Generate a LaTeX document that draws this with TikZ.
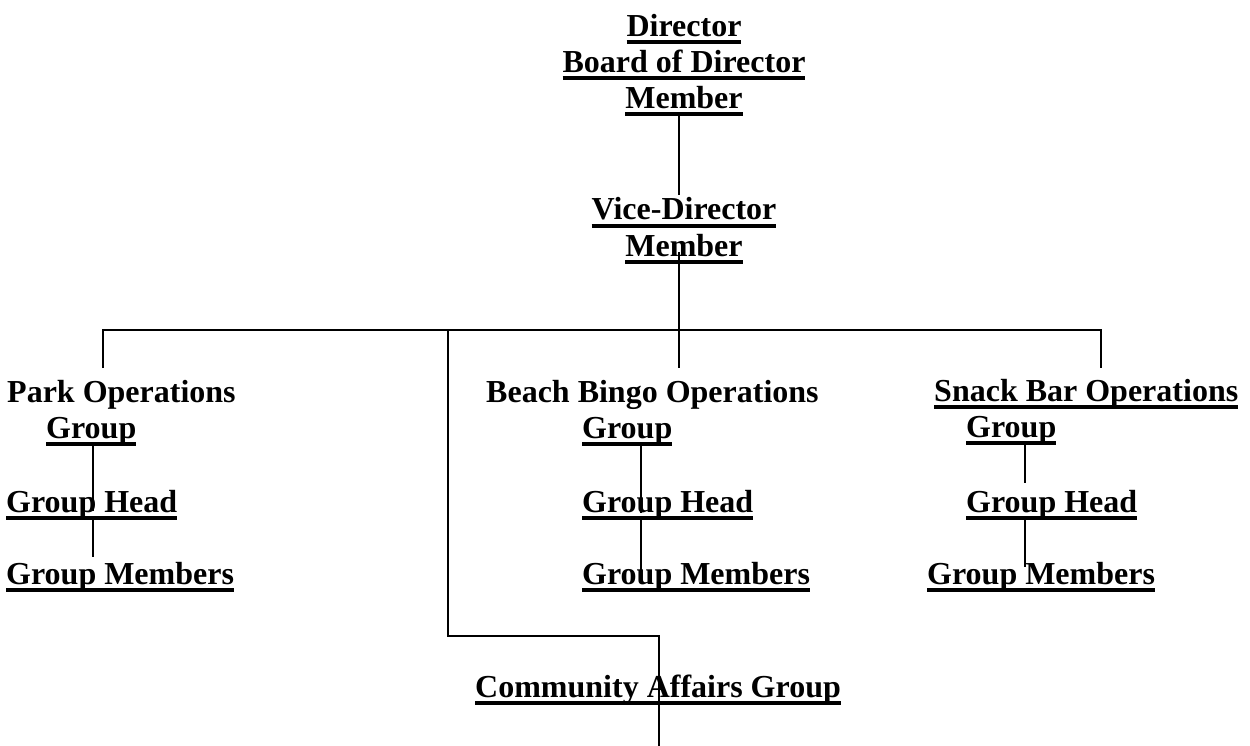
\documentclass[tikz,border=0pt]{standalone}
\usepackage{fontspec}
\setmainfont{Liberation Serif}
\newcommand\ulx[1]{\setbox0\hbox{#1}\rlap{\rule[-7.5pt]{\wd0}{3.6pt}}\box0}
\begin{document}
\begin{tikzpicture}[x=1pt,y=-1pt,
  txt/.style={inner sep=0pt, font=\fontsize{32}{36}\selectfont\bfseries},
  con/.style={line width=1.5pt, line cap=butt}]
\useasboundingbox (0,0) rectangle (1250,746);
% top block
\node[txt, anchor=base] (d1) at (684,36.5) {\ulx{Director}};
\node[txt, anchor=base] (d2) at (684,72.5) {\ulx{Board of Director}};
\node[txt, anchor=base] (d3) at (684,108.5) {\ulx{Member}};
\node[txt, anchor=base] (v1) at (684,220) {\ulx{Vice-Director}};
\node[txt, anchor=base] (v2) at (684,256) {\ulx{Member}};
% park
\node[txt, anchor=base west] (p1) at (7,402) {Park Operations};
\node[txt, anchor=base west] (p2) at (46,438) {\ulx{Group}};
\node[txt, anchor=base west] (p3) at (6,512) {\ulx{Group Head}};
\node[txt, anchor=base west] (p4) at (6,584) {\ulx{Group Members}};
% beach
\node[txt, anchor=base west] (b1) at (486,402) {Beach Bingo Operations};
\node[txt, anchor=base west] (b2) at (582,438) {\ulx{Group}};
\node[txt, anchor=base west] (b3) at (582,512) {\ulx{Group Head}};
\node[txt, anchor=base west] (b4) at (582,584) {\ulx{Group Members}};
% snack
\node[txt, anchor=base west] (s1) at (934,401) {\ulx{Snack Bar Operations}};
\node[txt, anchor=base west] (s2) at (966,437) {\ulx{Group}};
\node[txt, anchor=base west] (s3) at (966,512) {\ulx{Group Head}};
\node[txt, anchor=base west] (s4) at (927,584) {\ulx{Group Members}};
% community
\node[txt, anchor=base west] (c1) at (475,697) {\ulx{Community Affairs Group}};
% connector points
\coordinate (trunk) at (679,0);
\coordinate (barL) at (103,330);
\coordinate (barR) at (1101,330);
\coordinate (barC) at (448,330);
\coordinate (bend1) at (448,636);
\coordinate (bend2) at (659,636);
\coordinate (cEnd) at (659,746);
% connectors
\draw[con] (d3.south -| trunk) -- (679,195);
\draw[con] (679,252) -- (679,368);
\draw[con] (103,368) -- (barL) -- (barR) -- (1101,368);
\draw[con] (barC) -- (bend1) -- (bend2) -- (cEnd);
% park lines
\draw[con] (p2.south -| 93,0) -- (93,511);
\draw[con] (p3.south -| 93,0) -- (93,557);
% beach lines
\draw[con] (b2.south -| 641,0) -- (641,513);
\draw[con] (b3.south -| 641,0) -- (641,573);
% snack lines
\draw[con] (s2.south -| 1025,0) -- (1025,483);
\draw[con] (s3.south -| 1025,0) -- (1025,567);
\end{tikzpicture}
\end{document}
